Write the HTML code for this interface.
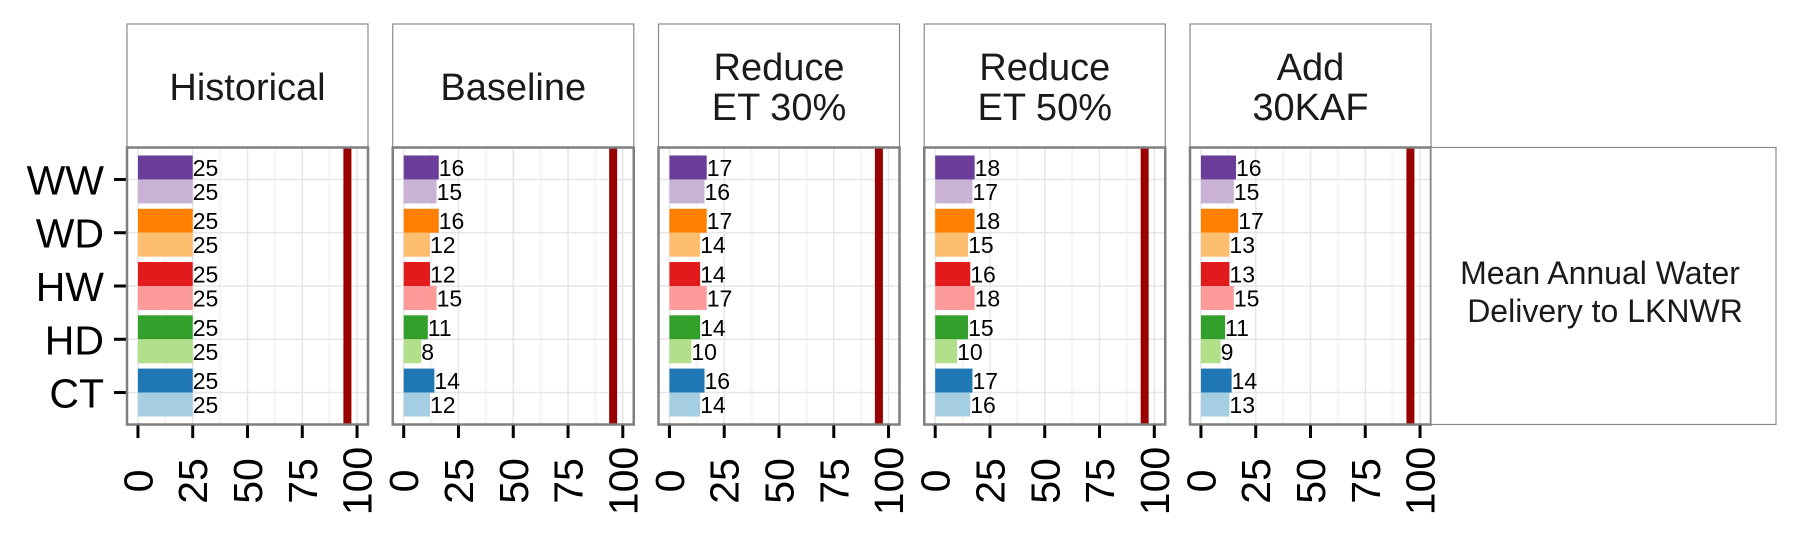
<!DOCTYPE html>
<html><head><meta charset="utf-8">
<style>
html,body{margin:0;padding:0;background:#fff;}
svg{display:block;font-family:"Liberation Sans",Arial,sans-serif;}
</style></head>
<body>
<svg id="chart" width="1800" height="540" viewBox="0 0 1800 540" xmlns="http://www.w3.org/2000/svg">
<rect width="1800" height="540" fill="#fff"/>
<g id="root"></g>
<g>
  <rect x="1431" y="147.5" width="345" height="277" fill="#fff" stroke="#8a8a8a" stroke-width="1.2"/>
  <text x="1600" y="284" font-size="32" text-anchor="middle" fill="#1a1a1a">Mean Annual Water</text>
  <text x="1605" y="322" font-size="32" text-anchor="middle" fill="#1a1a1a">Delivery to LKNWR</text>
</g>
</svg>
<script>
const facets = [["Historical"],["Baseline"],["Reduce","ET 30%"],["Reduce","ET 50%"],["Add","30KAF"]];
const categories = ["WW","WD","HW","HD","CT"];
const darkValues = [
  [25,25,25,25,25],
  [16,16,12,11,14],
  [17,17,14,14,16],
  [18,18,16,15,17],
  [16,17,13,11,14]
];
const lightValues = [
  [25,25,25,25,25],
  [15,12,15,8,12],
  [16,14,17,10,14],
  [17,15,18,10,16],
  [15,13,15,9,13]
];
const refLine = 95.6;
const xTicks = [0,25,50,75,100];
const darkColors = ["#6a3d9a","#ff7f00","#e31a1c","#33a02c","#1f78b4"];
const lightColors = ["#cab2d6","#fdbf6f","#fb9a99","#b2df8a","#a6cee3"];

const NS = "http://www.w3.org/2000/svg";
const root = document.getElementById("root");
function mk(tag, attrs, parent){
  const e = document.createElementNS(NS, tag);
  for (const k in attrs) e.setAttribute(k, attrs[k]);
  (parent||root).appendChild(e);
  return e;
}
const panelW = 241, panelTop = 147.5, panelBot = 424.5, stripTop = 24;
const xMin = -5, xMax = 105;
const nCat = categories.length;
function yPos(i){
  const pos = nCat - i;
  const lo = 0.4, hi = nCat + 0.6;
  return panelBot - (pos - lo) / (hi - lo) * (panelBot - panelTop);
}
const unit = (panelBot - panelTop) / (nCat + 0.2);
const halfBar = 0.45 * unit;

categories.forEach((c,i)=>{
  const y = yPos(i);
  const t = mk("text",{x:104,y:y+15,"font-size":41,"text-anchor":"end",fill:"#000"});
  t.textContent = c;
  
  
  const tk = mk("line",{x1:114,x2:127,y1:y,y2:y,stroke:"#000","stroke-width":3});
  
  
});

facets.forEach((f,fi)=>{
  const left = 127 + fi * 265.75;
  const xs = v => left + (v - xMin) / (xMax - xMin) * panelW;
  const g = mk("g",{});
  
  
  const strip = mk("rect",{x:left,y:stripTop,width:panelW,height:panelTop-stripTop,fill:"#fff",stroke:"#8a8a8a","stroke-width":1.2},g);
  
  
  const cx = left + panelW/2, cy = (stripTop + panelTop)/2;
  f.forEach((line,li)=>{
    const y = f.length === 1 ? cy + 14 : cy + 14 + (li - 0.5) * 40;
    const t = mk("text",{x:cx,y:y,"font-size":38,"text-anchor":"middle",fill:"#1a1a1a"},g);
    t.textContent = line;
    
    
  });
  mk("rect",{x:left,y:panelTop,width:panelW,height:panelBot-panelTop,fill:"#fff"},g);
  for (let v = 12.5; v < 105; v += 25){
    const l = mk("line",{x1:xs(v),x2:xs(v),y1:panelTop,y2:panelBot,stroke:"#f7f7f7","stroke-width":3},g);
    
    
  }
  xTicks.forEach(v=>{
    const l = mk("line",{x1:xs(v),x2:xs(v),y1:panelTop,y2:panelBot,stroke:"#e6e6e6","stroke-width":1.5},g);
    
    
  });
  categories.forEach((c,i)=>{
    const l = mk("line",{x1:left,x2:left+panelW,y1:yPos(i),y2:yPos(i),stroke:"#e6e6e6","stroke-width":1.5},g);
    
    
  });
  categories.forEach((c,i)=>{
    const y = yPos(i);
    const dv = darkValues[fi][i], lv = lightValues[fi][i];
    const b1 = mk("rect",{x:xs(0),y:y-halfBar,width:xs(dv)-xs(0),height:halfBar,fill:darkColors[i]},g);
    
    
    const b2 = mk("rect",{x:xs(0),y:y,width:xs(lv)-xs(0),height:halfBar,fill:lightColors[i]},g);
    
    
    const t1 = mk("text",{x:xs(dv),y:y-halfBar/2+8.5,"font-size":23,fill:"#000"},g);
    t1.textContent = dv;
    
    
    const t2 = mk("text",{x:xs(lv),y:y+halfBar/2+8.5,"font-size":23,fill:"#000"},g);
    t2.textContent = lv;
    
    
  });
  const rl = mk("line",{x1:xs(refLine),x2:xs(refLine),y1:panelTop,y2:panelBot,stroke:"#990000","stroke-width":8},g);
  
  
  const br = mk("rect",{x:left,y:panelTop,width:panelW,height:panelBot-panelTop,fill:"none",stroke:"#7f7f7f","stroke-width":2.5},g);
  
  
  xTicks.forEach(v=>{
    const x = xs(v);
    const tk = mk("line",{x1:x,x2:x,y1:panelBot+1,y2:438,stroke:"#000","stroke-width":3},g);
    
    
    const t = mk("text",{x:0,y:0,"font-size":41,"text-anchor":"middle",fill:"#000",transform:`translate(${x+14.5},481) rotate(-90)`},g);
    t.textContent = v;
    
    
  });
});
</script>
</body></html>
